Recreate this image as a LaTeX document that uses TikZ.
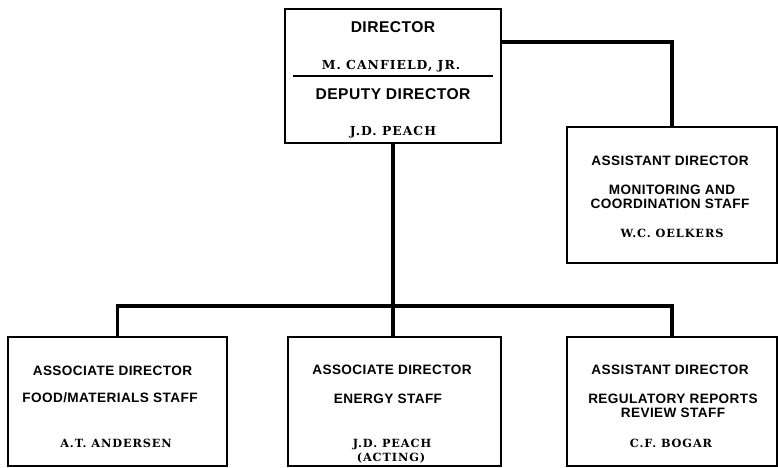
\documentclass[tikz,border=0pt]{standalone}
\usepackage{fontspec}
\newfontfamily\headfont{Liberation Sans}[BoldFont={* Bold},LetterSpace=3]
\newfontfamily\namefont{DejaVu Serif}[BoldFont={* Bold},LetterSpace=8]
\begin{document}
\begin{tikzpicture}[x=1pt,y=-1pt,
  unitbox/.style={draw=black,line width=2.4pt,inner sep=0pt},
  link/.style={draw=black,line width=3.6pt},
  headtxt/.style={anchor=base,inner sep=0pt,font=\headfont\bfseries\fontsize{13.6}{15}\selectfont},
  bigheadtxt/.style={anchor=base,inner sep=0pt,font=\headfont\bfseries\fontsize{15.6}{17}\selectfont},
  persontxt/.style={anchor=base,inner sep=0pt,font=\namefont\bfseries\fontsize{11.3}{12}\selectfont},
  bigpersontxt/.style={anchor=base,inner sep=0pt,font=\namefont\bfseries\fontsize{12.4}{13}\selectfont}]
\useasboundingbox (0,0) rectangle (778,467);
\fill[white] (0,0) rectangle (778,467);

% organisational units
\node[unitbox,minimum width=216pt,minimum height=134pt] (dir) at (393,76) {};
\node[unitbox,minimum width=210pt,minimum height=136pt] (mon) at (672,195) {};
\node[unitbox,minimum width=219pt,minimum height=129pt] (food) at (117.5,401.5) {};
\node[unitbox,minimum width=213pt,minimum height=129pt] (energy) at (394.5,401.5) {};
\node[unitbox,minimum width=210pt,minimum height=129pt] (reg) at (672,401.5) {};

% connectors
\coordinate (bus) at (394,306);
\draw[link] ([yshift=-34pt]dir.north east) -| (mon.north);
\draw[link] (dir.south) -- (dir.south |- energy.north);
\draw[link] (food.north) |- (bus) -| (reg.north);

% director / deputy director
\node[bigheadtxt] (t1) at (393,32) {DIRECTOR};
\node[bigpersontxt] (t2) at (391,69.5) {M. CANFIELD, JR.};
\draw[line width=2.6pt] (293,76) -- (493,76);
\node[bigheadtxt] (t3) at (393,99) {DEPUTY DIRECTOR};
\node[bigpersontxt] (t4) at (393,135.5) {J.D. PEACH};

% monitoring and coordination staff
\node[headtxt] (m1) at (670,165) {ASSISTANT DIRECTOR};
\node[headtxt] (m2) at (672,194) {MONITORING AND};
\node[headtxt] (m3) at (670,208) {COORDINATION STAFF};
\node[persontxt] (m4) at (672,237) {W.C. OELKERS};

% food/materials staff
\node[headtxt] (f1) at (112.5,375) {ASSOCIATE DIRECTOR};
\node[headtxt] (f2) at (110,402) {FOOD/MATERIALS STAFF};
\node[persontxt] (f3) at (116,447) {A.T. ANDERSEN};

% energy staff
\node[headtxt] (e1) at (392,374) {ASSOCIATE DIRECTOR};
\node[headtxt] (e2) at (388,403) {ENERGY STAFF};
\node[persontxt] (e3) at (392,447) {J.D. PEACH};
\node[persontxt] (e4) at (391,461) {(ACTING)};

% regulatory reports review staff
\node[headtxt] (r1) at (670,374) {ASSISTANT DIRECTOR};
\node[headtxt] (r2) at (673,403) {REGULATORY REPORTS};
\node[headtxt] (r3) at (673,417) {REVIEW STAFF};
\node[persontxt] (r4) at (671,447) {C.F. BOGAR};
\end{tikzpicture}
\end{document}
